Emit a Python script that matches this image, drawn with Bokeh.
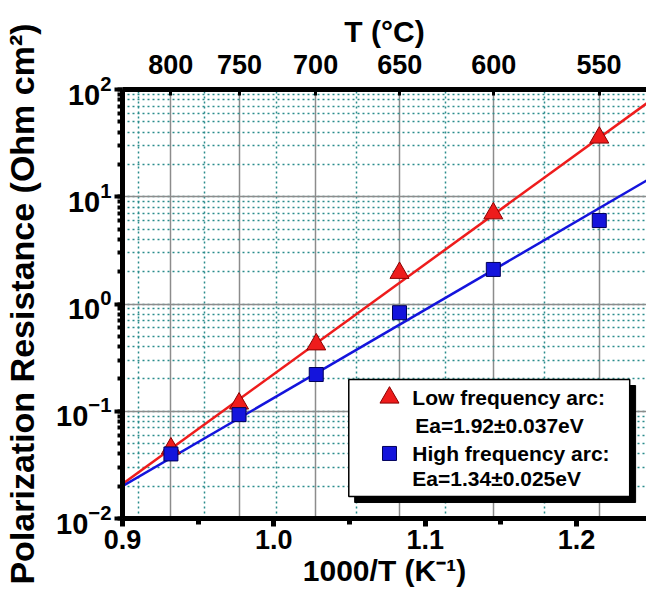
from bokeh.plotting import figure
from bokeh.models import (Range1d, LinearAxis, FixedTicker, LogTicker,
                          CustomJSTickFormatter, NumeralTickFormatter)
from bokeh.core.properties import value
from bokeh.embed import file_html
from bokeh.resources import INLINE

# ---------------- data ----------------
temp_labels_C = [800, 750, 700, 650, 600, 550]        # top axis labels (°C)
temp_minor_C = [825, 775, 725, 675, 625, 575]         # top axis minor positions (°C)
inv_T = [0.932, 0.977, 1.028, 1.083, 1.145, 1.215]    # 1000/T (1/K)
low_freq = [0.045, 0.118, 0.42, 1.95, 7.0, 35.6]      # low frequency arc (Ohm cm2)
high_freq = [0.040, 0.093, 0.22, 0.83, 2.1, 6.0]      # high frequency arc (Ohm cm2)
fit_x = [0.9, 1.25]
low_fit = [0.021, 81.0]
high_fit = [0.020, 15.2]
x_ticks = [0.9, 1.0, 1.1, 1.2]
x_minor = [0.95, 1.05, 1.15]
legend_labels = ["Low frequency arc:", "Ea=1.92\u00b10.037eV",
                 "High frequency arc:", "Ea=1.34\u00b10.025eV"]

FONT = "Liberation Sans"
RED = "#ee1c1c"
BLUE = "#1414dc"
GRID = "#8c8c8c"
TEAL = "#2a8c8c"

p = figure(width=646, height=594, output_backend="svg", toolbar_location=None,
           x_range=Range1d(0.9, 1.2462), y_range=Range1d(0.01, 100),
           y_axis_type="log",
           min_border_left=118, min_border_right=0,
           min_border_top=89, min_border_bottom=76)
p.outline_line_color = None
p.background_fill_color = "white"
p.border_fill_color = "white"

bx = p.below[0]
ly = p.left[0]

# ---------------- top axis (temperature) ----------------
top_pos = [1000.0 / (t + 273.15) for t in temp_labels_C]
top_minor = [1000.0 / (t + 273.15) for t in temp_minor_C]
top_ticker = FixedTicker(ticks=top_pos, minor_ticks=top_minor)
top_axis = LinearAxis(ticker=top_ticker,
                      formatter=CustomJSTickFormatter(
                          code="return Math.round(1000/tick - 273.15).toString()"))
top_axis.axis_label = "T (\u00b0C)"
p.add_layout(top_axis, "above")

# ---------------- grids ----------------
p.xgrid.ticker = top_ticker
for g in (p.xgrid, p.ygrid):
    g.grid_line_color = GRID
    g.grid_line_width = 1.5
    g.minor_grid_line_color = TEAL
    g.minor_grid_line_width = 1.5
    g.minor_grid_line_dash = "2 3"

# ---------------- bottom / left axes ----------------
bx.ticker = FixedTicker(ticks=x_ticks, minor_ticks=x_minor)
bx.formatter = NumeralTickFormatter(format="0.0")
bx.axis_label = "1000/T (K\u207b\u00b9)"
ly.ticker = LogTicker(num_minor_ticks=10)
ly.axis_label = "Polarization Resistance (Ohm cm\u00b2)"

for ax in (bx, ly, top_axis):
    ax.axis_line_width = 5
    ax.axis_line_color = "black"
    ax.major_label_text_font = FONT
    ax.major_label_text_font_style = "bold"
    ax.major_label_text_font_size = "27px"
    ax.major_label_text_color = "black"
    ax.axis_label_text_font = FONT
    ax.axis_label_text_font_style = "bold"
    ax.axis_label_text_color = "black"
    ax.major_tick_line_color = "black"
    ax.minor_tick_line_color = "black"

bx.major_tick_out = 8
bx.major_tick_in = 0
bx.major_tick_line_width = 5
bx.minor_tick_out = 6
bx.minor_tick_in = 0
bx.minor_tick_line_width = 5
bx.major_label_standoff = 3
bx.axis_label_text_font_size = "30px"
bx.axis_label_standoff = 2

ly.major_tick_out = 8
ly.major_tick_in = 0
ly.major_tick_line_width = 4
ly.minor_tick_out = 5
ly.minor_tick_in = 0
ly.minor_tick_line_width = 4
ly.major_label_standoff = 3
ly.major_label_text_font_size = "29px"
ly.axis_label_text_font_size = "34px"
ly.axis_label_standoff = 12

top_axis.major_tick_out = 0
top_axis.major_tick_in = 6
top_axis.major_tick_line_width = 3
top_axis.minor_tick_line_color = None
top_axis.major_label_standoff = 12
top_axis.axis_label_text_font_size = "30px"
top_axis.axis_label_standoff = 4

# ---------------- fit lines and data ----------------
p.line(fit_x, low_fit, line_color=RED, line_width=2.5)
p.line(fit_x, high_fit, line_color=BLUE, line_width=2.5)
p.scatter(inv_T, low_freq, marker="triangle", size=19,
          fill_color=RED, line_color="#8b0000", line_width=1)
p.scatter(inv_T, high_freq, marker="square", size=14,
          fill_color=BLUE, line_color="#00005a", line_width=1)

# ---------------- legend box (with shadow) ----------------
p.quad(left=[1.0534], right=[1.2390], top=[0.1738], bottom=[0.01409],
       fill_color="black", line_color="black")
p.quad(left=[1.0495], right=[1.2351], top=[0.1977], bottom=[0.01603],
       fill_color="white", line_color="black", line_width=1.5)
p.scatter([1.0764], [0.134], marker="triangle", size=19,
          fill_color=RED, line_color="#8b0000", line_width=1)
p.scatter([1.0764], [0.0404], marker="square", size=14,
          fill_color=BLUE, line_color="#00005a", line_width=1)
p.text(x=[1.0915, 1.0934, 1.0915, 1.0915],
       y=[0.134, 0.0736, 0.0404, 0.0236],
       text=legend_labels, text_font=value(FONT), text_font_style="bold",
       text_font_size="21px", text_align="left", text_baseline="middle",
       text_color="black")

open("out.html", "w").write(file_html(p, INLINE))
